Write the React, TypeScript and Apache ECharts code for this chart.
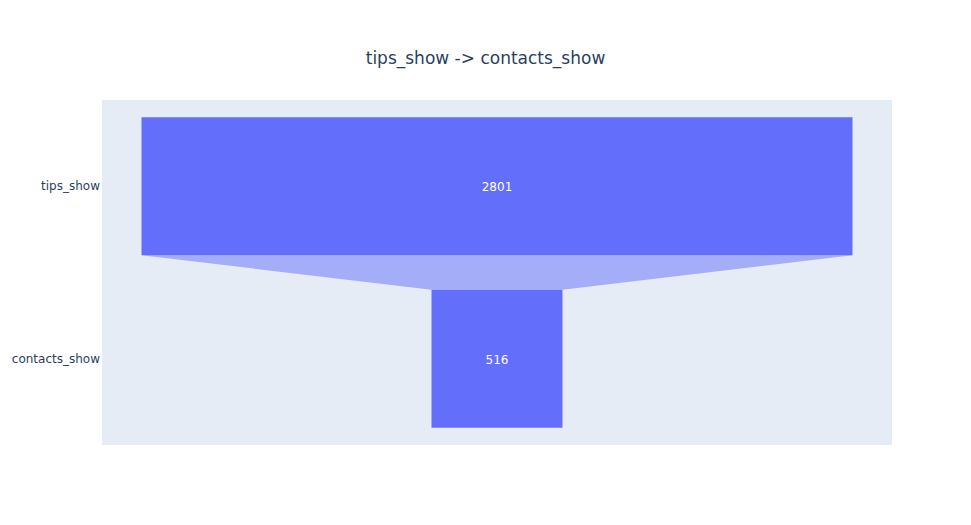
import React, { useEffect, useRef } from "react";
import * as echarts from "echarts";

const stages = ["tips_show", "contacts_show"];
const counts = [2801, 516];
const titleText = "tips_show -> contacts_show";

const BAR_COLOR = "#636efa";
const CONNECTOR_COLOR = "#a4adf8";
const FONT = '"DejaVu Sans", verdana, arial, sans-serif';

export default function App() {
  const ref = useRef<HTMLDivElement>(null);
  useEffect(() => {
    if (!ref.current) return;
    const chart = echarts.init(ref.current, undefined, { renderer: "svg" });
    const maxV = Math.max(...counts);
    const half = maxV / 0.9 / 2;
    const data = counts.map((v, i) => [i, v]);
    chart.setOption({
      animation: false,
      backgroundColor: "#ffffff",
      title: {
        text: titleText,
        left: "center",
        top: 44,
        textStyle: { fontFamily: FONT, fontSize: 17, fontWeight: "normal", color: "#2a3f5f" },
      },
      grid: {
        left: 102,
        top: 100,
        width: 790,
        height: 345,
        show: true,
        backgroundColor: "#E5ECF6",
        borderWidth: 0,
      },
      xAxis: {
        type: "value",
        min: -half,
        max: half,
        show: false,
      },
      yAxis: {
        type: "category",
        data: stages,
        inverse: true,
        axisLine: { show: false },
        axisTick: { show: false },
        splitLine: { show: false },
        axisLabel: { color: "#2a3f5f", fontFamily: FONT, fontSize: 12, margin: 2 },
      },
      series: [
        {
          type: "custom",
          data,
          encode: { x: 1, y: 0 },
          renderItem: (params: any, api: any) => {
            const idx = api.value(0);
            const v = api.value(1);
            const band = api.size([0, 1])[1];
            const h = band * 0.8;
            const c = api.coord([0, idx]);
            const l = api.coord([-v / 2, idx])[0];
            const r = api.coord([v / 2, idx])[0];
            const children: any[] = [];
            const i = params.dataIndex;
            if (i < counts.length - 1) {
              const nv = counts[i + 1];
              const nc = api.coord([0, i + 1]);
              const nl = api.coord([-nv / 2, i + 1])[0];
              const nr = api.coord([nv / 2, i + 1])[0];
              const y0 = c[1] + h / 2;
              const y1 = nc[1] - h / 2;
              children.push({
                type: "polygon",
                shape: { points: [[l, y0], [r, y0], [nr, y1], [nl, y1]] },
                style: { fill: CONNECTOR_COLOR, stroke: "none" },
              });
            }
            children.push({
              type: "rect",
              shape: { x: l, y: c[1] - h / 2, width: r - l, height: h },
              style: { fill: BAR_COLOR },
            });
            children.push({
              type: "text",
              x: c[0],
              y: c[1] + 1,
              style: {
                text: String(v),
                fill: "#ffffff",
                font: `12px ${FONT}`,
                align: "center",
                verticalAlign: "middle",
              },
            });
            return { type: "group", children };
          },
        },
      ],
    });
    return () => chart.dispose();
  }, []);
  return (
    <div
      ref={ref}
      style={{ position: "fixed", left: 0, top: 0, width: 971, height: 525 }}
    />
  );
}
